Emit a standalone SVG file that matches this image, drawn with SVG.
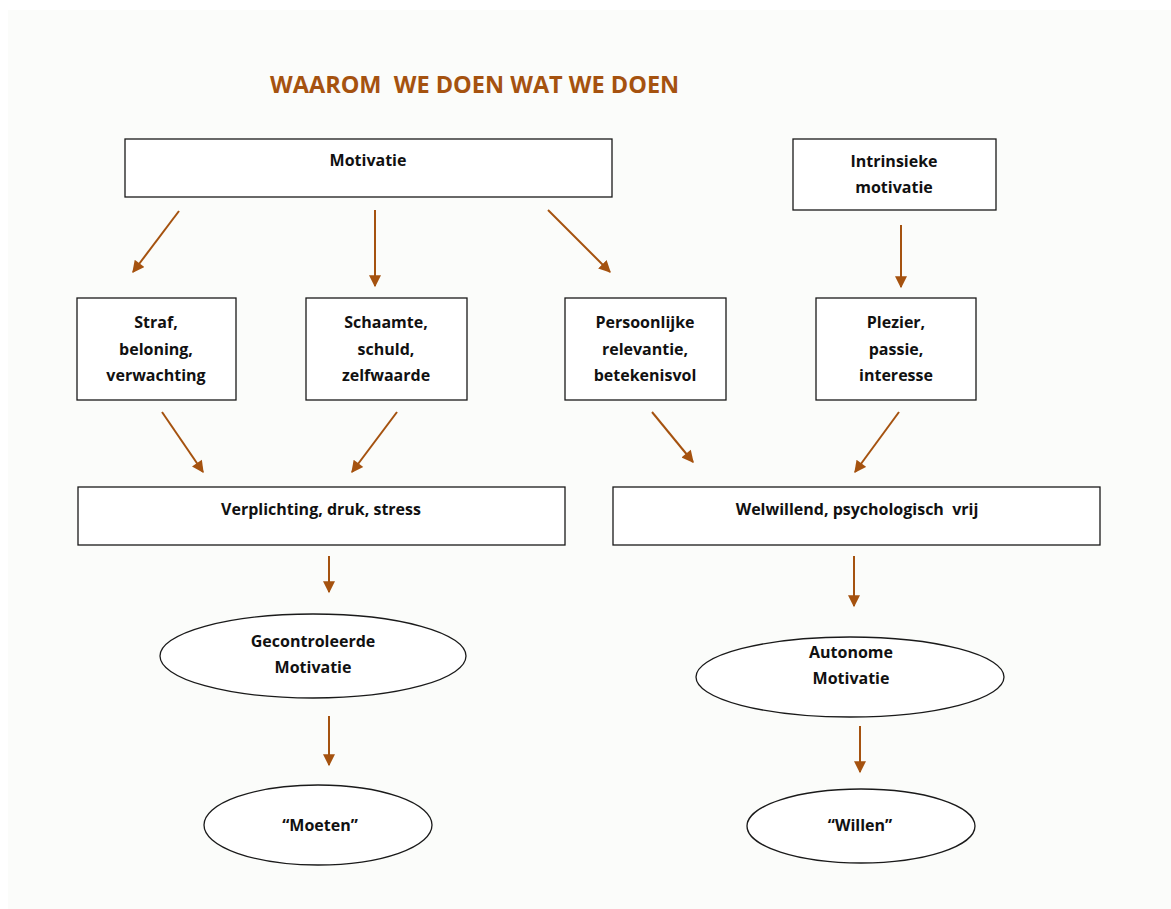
<svg xmlns="http://www.w3.org/2000/svg" width="1171" height="909" viewBox="0 0 1171 909">
<style>
.bx{fill:#fff;stroke:#1a1a1a;stroke-width:1.3}
.t{font-family:"Open Sans","Noto Sans",sans-serif;font-weight:700;font-size:16px;fill:#111;text-anchor:middle}
.ttl{font-family:"Open Sans","Noto Sans",sans-serif;font-weight:700;font-size:23.5px;fill:#a5520f}
.ar{stroke:#a5520f;stroke-width:2;fill:none;marker-end:url(#ah)}
</style>
<defs>
<marker id="ah" viewBox="0 0 10 10" refX="9" refY="5" markerWidth="13" markerHeight="12" markerUnits="userSpaceOnUse" orient="auto"><path d="M0,0 L10,5 L0,10 z" fill="#a5520f"/></marker>
</defs>
<rect x="0" y="0" width="1171" height="909" fill="#fff"/>
<rect x="8" y="10" width="1163" height="899" fill="#fbfcfa"/>
<text class="ttl" x="270" y="93" xml:space="preserve">WAAROM  WE DOEN WAT WE DOEN</text>
<g id="motivatie"><rect class="bx" x="125" y="139" width="487" height="58"/><text class="t" x="368" y="166">Motivatie</text></g>
<g id="intrinsiek"><rect class="bx" x="793" y="139" width="203" height="71"/><text class="t" x="894" y="167">Intrinsieke</text><text class="t" x="894" y="193">motivatie</text></g>
<g id="straf"><rect class="bx" x="77" y="298" width="159" height="102"/><text class="t" x="156" y="328">Straf,</text><text class="t" x="156" y="355">beloning,</text><text class="t" x="156" y="381">verwachting</text></g>
<g id="schaamte"><rect class="bx" x="306" y="298" width="161" height="102"/><text class="t" x="386" y="328">Schaamte,</text><text class="t" x="386" y="355">schuld,</text><text class="t" x="386" y="381">zelfwaarde</text></g>
<g id="persoonlijk"><rect class="bx" x="565" y="298" width="161" height="102"/><text class="t" x="645" y="328">Persoonlijke</text><text class="t" x="645" y="355">relevantie,</text><text class="t" x="645" y="381">betekenisvol</text></g>
<g id="plezier"><rect class="bx" x="816" y="298" width="160" height="102"/><text class="t" x="896" y="328">Plezier,</text><text class="t" x="896" y="355">passie,</text><text class="t" x="896" y="381">interesse</text></g>
<g id="verplichting"><rect class="bx" x="78" y="487" width="487" height="58"/><text class="t" x="321" y="515">Verplichting, druk, stress</text></g>
<g id="welwillend"><rect class="bx" x="613" y="487" width="487" height="58"/><text class="t" x="857" y="515" xml:space="preserve">Welwillend, psychologisch  vrij</text></g>
<g id="gecontroleerd"><ellipse class="bx" cx="313" cy="656" rx="153" ry="42"/><text class="t" x="313" y="647">Gecontroleerde</text><text class="t" x="313" y="673">Motivatie</text></g>
<g id="autonoom"><ellipse class="bx" cx="850" cy="677" rx="154" ry="40"/><text class="t" x="851" y="658">Autonome</text><text class="t" x="851" y="684">Motivatie</text></g>
<g id="moeten"><ellipse class="bx" cx="318" cy="825" rx="114" ry="40"/><text class="t" x="320" y="831">“Moeten”</text></g>
<g id="willen"><ellipse class="bx" cx="861" cy="826" rx="114" ry="37"/><text class="t" x="860" y="831">“Willen”</text></g>
<g id="connectors">
<line class="ar" x1="179" y1="211" x2="133" y2="272"/>
<line class="ar" x1="375" y1="210" x2="375" y2="286"/>
<line class="ar" x1="548" y1="210" x2="610" y2="272"/>
<line class="ar" x1="901" y1="225" x2="901" y2="287"/>
<line class="ar" x1="162" y1="412" x2="203" y2="472"/>
<line class="ar" x1="397" y1="412" x2="352" y2="472"/>
<line class="ar" x1="652" y1="412" x2="693" y2="462"/>
<line class="ar" x1="899" y1="412" x2="855" y2="472"/>
<line class="ar" x1="329" y1="556" x2="329" y2="592"/>
<line class="ar" x1="854" y1="556" x2="854" y2="606"/>
<line class="ar" x1="329" y1="716" x2="329" y2="765"/>
<line class="ar" x1="860" y1="726" x2="860" y2="772"/>
</g>
</svg>
